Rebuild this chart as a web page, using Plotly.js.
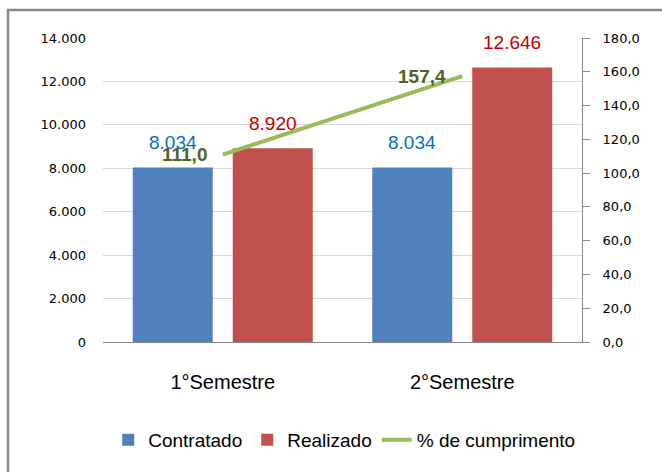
<!DOCTYPE html>
<html>
<head>
<meta charset="utf-8">
<script src="https://cdn.plot.ly/plotly-3.0.1.min.js"></script>
<style>
  html, body { margin: 0; padding: 0; background: #fff; overflow: hidden; }
  #chart { width: 662px; height: 472px; }
</style>
</head>
<body>
<div id="chart"></div>
<script>
// ---- Data ----
const categories = ['1°Semestre', '2°Semestre'];
const contratado = [8034, 8034];
const realizado = [8920, 12646];
const cumprimento = [111.0, 157.4];
const seriesNames = ['Contratado', 'Realizado', '% de cumprimento'];
const leftTicks = [0, 2000, 4000, 6000, 8000, 10000, 12000, 14000];
const rightTicks = [0, 20, 40, 60, 80, 100, 120, 140, 160, 180];

// ---- Helpers ----
function fmtInt(v) { return String(Math.round(v)).replace(/\B(?=(\d{3})+(?!\d))/g, '.'); }
function fmt1(v) { return v.toFixed(1).replace('.', ','); }

const traces = [
  { type: 'bar', name: seriesNames[0], x: categories, y: contratado,
    marker: { color: '#4F81BD' }, hoverinfo: 'skip' },
  { type: 'bar', name: seriesNames[1], x: categories, y: realizado,
    marker: { color: '#C0504D' }, hoverinfo: 'skip' },
  { type: 'scatter', mode: 'lines', name: seriesNames[2], x: categories, y: cumprimento,
    yaxis: 'y2', line: { color: '#9BBB59', width: 4 }, hoverinfo: 'skip' }
];

const annotations = [];
categories.forEach((c, i) => {
  annotations.push({ x: c, y: contratado[i], xref: 'x', yref: 'y', text: fmtInt(contratado[i]),
    showarrow: false, xshift: -50, yshift: 25, yanchor: 'middle',
    font: { family: 'Liberation Sans, Arial, sans-serif', size: 19, color: '#0070C0' } });
  annotations.push({ x: c, y: realizado[i], xref: 'x', yref: 'y', text: fmtInt(realizado[i]),
    showarrow: false, xshift: 50, yshift: 25, yanchor: 'middle',
    font: { family: 'Liberation Sans, Arial, sans-serif', size: 19, color: '#C00000' } });
  annotations.push({ x: c, y: cumprimento[i], xref: 'x', yref: 'y2', text: '<b>' + fmt1(cumprimento[i]) + '</b>',
    showarrow: false, xanchor: 'right', xshift: -14, yanchor: 'middle',
    font: { family: 'Liberation Sans, Arial, sans-serif', size: 19, color: '#4F6228' } });
});

const layout = {
  width: 662, height: 472,
  margin: { l: 103, r: 80, t: 38, b: 130 },
  paper_bgcolor: '#ffffff', plot_bgcolor: '#ffffff',
  separators: ',.',
  barmode: 'group', bargap: 0.165, bargroupgap: 0.2,
  showlegend: true,
  legend: { orientation: 'h', xref: 'container', yref: 'container',
    x: 0.52, xanchor: 'center', y: 0.068, yanchor: 'middle',
    font: { family: 'Liberation Sans, Arial, sans-serif', size: 19, color: '#000' },
    itemwidth: 30, traceorder: 'normal' },
  xaxis: { type: 'category', showline: true, linecolor: '#868686', linewidth: 1,
    ticks: '', ticklabelstandoff: 22, showgrid: false, zeroline: false,
    tickfont: { family: 'Liberation Sans, Arial, sans-serif', size: 20, color: '#000' } },
  yaxis: { range: [0, 14000], tickvals: leftTicks, tickformat: ',d', showgrid: true, gridcolor: '#D9D9D9',
    gridwidth: 1, zeroline: false, showline: false, ticks: '', ticklabelstandoff: 16,
    tickfont: { family: 'DejaVu Sans, sans-serif', size: 13, color: '#000' } },
  yaxis2: { overlaying: 'y', side: 'right', range: [0, 180], tickvals: rightTicks, tickformat: '.1f',
    showgrid: false, zeroline: false, showline: true, linecolor: '#868686', linewidth: 1,
    ticks: 'outside', ticklen: 7, tickcolor: '#868686', ticklabelstandoff: 10,
    tickfont: { family: 'DejaVu Sans, sans-serif', size: 13, color: '#000' } },
  annotations: annotations,
  shapes: [
    { type: 'rect', xref: 'paper', yref: 'paper', x0: -0.1983, x1: 2, y0: -2, y1: 1.0921,
      line: { color: '#888888', width: 2.5 }, fillcolor: 'rgba(0,0,0,0)', layer: 'above' }
  ]
};

Plotly.newPlot('chart', traces, layout, { staticPlot: true, displayModeBar: false });
</script>
</body>
</html>
